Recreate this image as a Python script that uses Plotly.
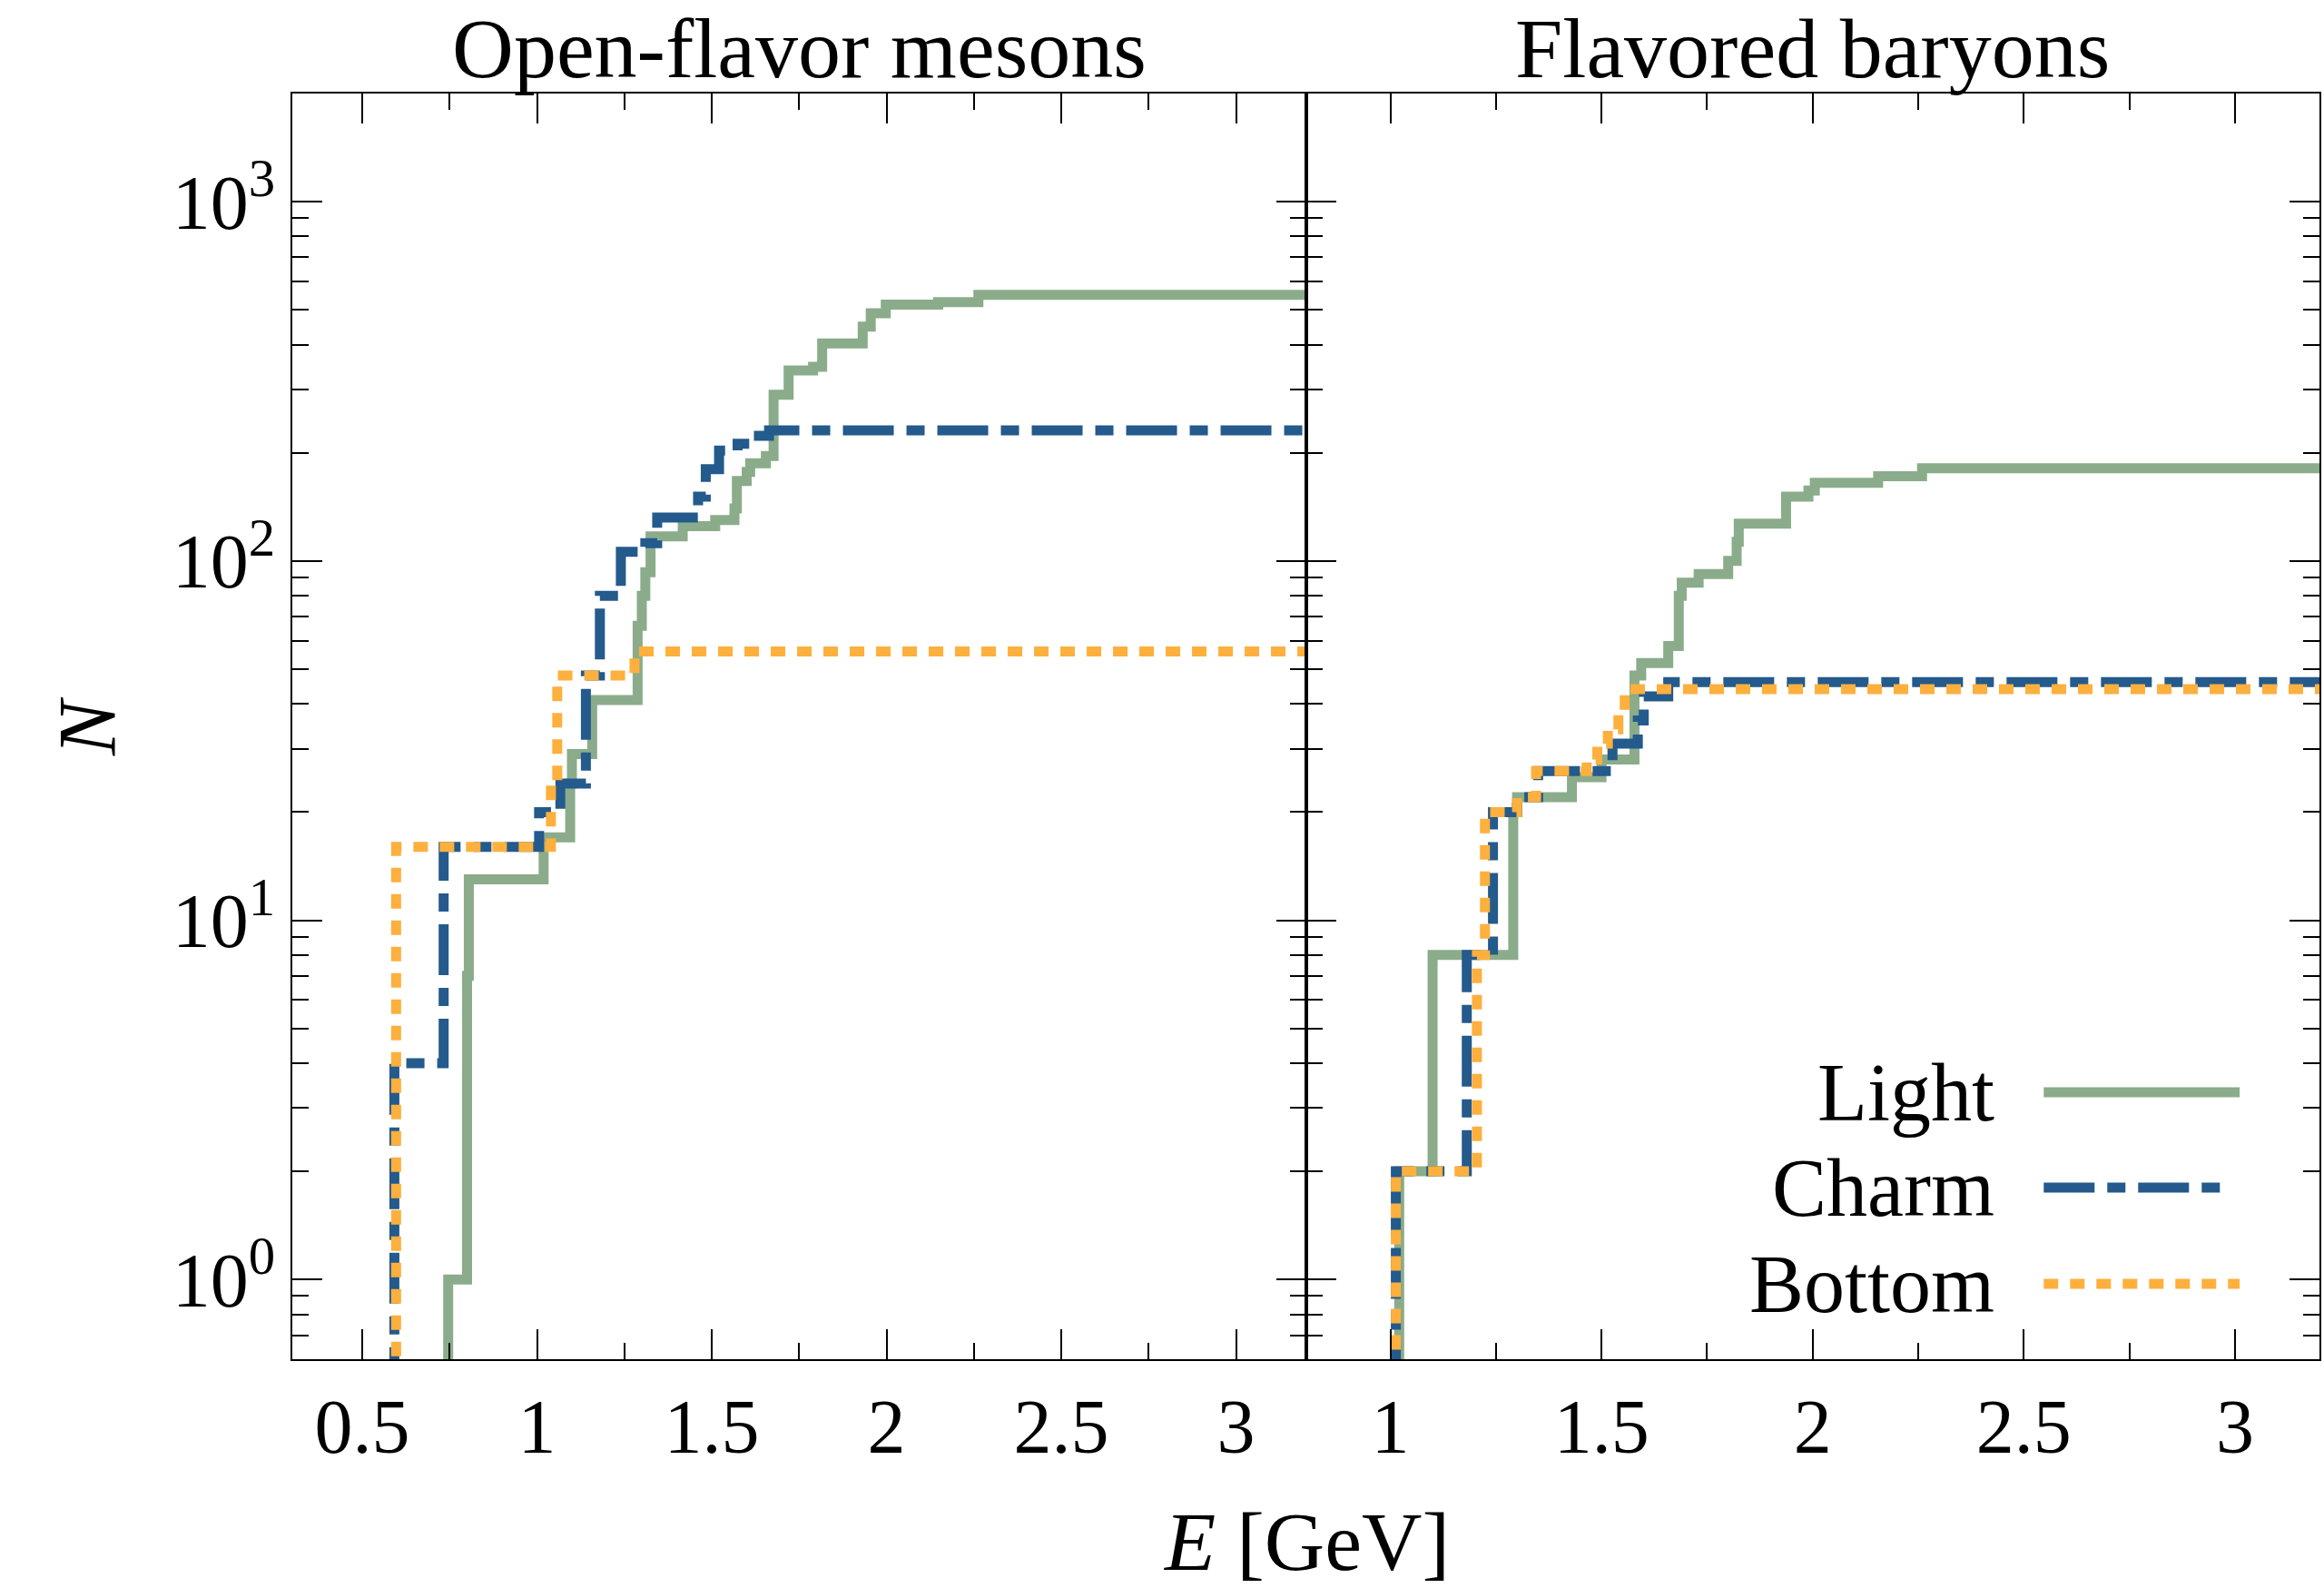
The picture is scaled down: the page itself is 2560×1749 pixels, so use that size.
import math
import plotly.graph_objects as go

# ---------------- data ----------------
panel_titles = ["Open-flavor mesons", "Flavored baryons"]
series_names = ["Light", "Charm", "Bottom"]

meson_light_E = [0.746, 0.800, 0.805, 1.019, 1.095, 1.100, 1.158, 1.288, 1.300, 1.310,
                 1.325, 1.417, 1.510, 1.565, 1.572, 1.600, 1.610, 1.655, 1.677, 1.720,
                 1.790, 1.816, 1.932, 1.955, 1.998, 2.148, 2.263]
meson_light_N = [1, 7, 13, 17, 24, 29, 41, 66, 80, 93,
                 117, 125, 130, 140, 167, 177, 187, 196, 290, 339,
                 347, 403, 449, 489, 517, 525, 550]

meson_charm_E = [0.592, 0.733, 1.006, 1.067, 1.140, 1.180, 1.240, 1.310, 1.344, 1.461,
                 1.483, 1.521, 1.574, 1.635, 1.664]
meson_charm_N = [4, 16, 20, 24, 48, 80, 106, 112, 132, 151,
                 180, 203, 212, 223, 231]

meson_bottom_E = [0.597, 1.040, 1.058, 1.279]
meson_bottom_N = [16, 24, 48, 56]

baryon_light_E = [1.021, 1.100, 1.291, 1.300, 1.430, 1.500, 1.578, 1.594, 1.658, 1.683,
                  1.690, 1.730, 1.800, 1.820, 1.825, 1.937, 1.990, 2.005, 2.155, 2.259]
baryon_light_N = [2, 8, 20, 22, 25, 28, 48, 52, 58, 80,
                  87, 92, 100, 113, 127, 151, 157, 165, 172, 181]

baryon_charm_E = [1.013, 1.181, 1.243, 1.300, 1.350, 1.526, 1.586, 1.600, 1.658]
baryon_charm_N = [2, 8, 20, 22, 26, 31, 36, 42, 46]

baryon_bottom_E = [1.013, 1.205, 1.224, 1.300, 1.345, 1.465, 1.490, 1.515, 1.540, 1.555]
baryon_bottom_N = [2, 8, 20, 22, 26, 28, 31, 34, 38, 44]

y_tick_vals = [1, 10, 100, 1000]
y_tick_text = ["10<sup>0</sup>", "10<sup>1</sup>", "10<sup>2</sup>", "10<sup>3</sup>"]
x_ticks_mesons = [0.5, 1, 1.5, 2, 2.5, 3]
x_ticks_baryons = [1, 1.5, 2, 2.5, 3]

# ---------------- style ----------------
FONT = "Liberation Serif"
COLORS = {"Light": "#8BAC8A", "Charm": "#245A8C", "Bottom": "#FDB03D"}
DASHES = {"Light": "solid", "Charm": "56px,14px,20px,14px", "Bottom": "16px,13px"}
LW = 11
X_RANGES = [(0.3, 3.2), (0.8, 3.2)]
Y_LOW, Y_HIGH = 0.6, 2000

fig = go.Figure()

panels = [
    [(meson_light_E, meson_light_N), (meson_charm_E, meson_charm_N), (meson_bottom_E, meson_bottom_N)],
    [(baryon_light_E, baryon_light_N), (baryon_charm_E, baryon_charm_N), (baryon_bottom_E, baryon_bottom_N)],
]

for p, series in enumerate(panels):
    xa = "x" if p == 0 else "x2"
    ya = "y" if p == 0 else "y2"
    xmin, xmax = X_RANGES[p]
    for name, (E, N) in zip(series_names, series):
        xs = [xmin - 0.1] + list(E) + [xmax + 0.1]
        ys = [0.1] + list(N) + [N[-1]]
        fig.add_trace(go.Scatter(
            x=xs, y=ys, xaxis=xa, yaxis=ya, mode="lines", name=name, showlegend=False,
            line=dict(shape="hv", color=COLORS[name], width=LW, dash=DASHES[name]),
            hoverinfo="skip"))

minor_y = [m * 10 ** k for k in range(-1, 4) for m in range(2, 10)]

axis_common = dict(
    showline=True, linecolor="black", linewidth=2, mirror="allticks",
    ticks="inside", ticklen=33, tickwidth=2, tickcolor="black",
    showgrid=False, zeroline=False,
    tickfont=dict(family=FONT, size=84, color="black"),
)

xaxis_common = dict(axis_common)
xaxis_common.update(minor=dict(ticks="inside", ticklen=18, tickwidth=2, tickcolor="black",
                               dtick=0.25, tick0=0, showgrid=False))

yaxis_common = dict(axis_common)
yaxis_common.update(type="log", range=[math.log10(Y_LOW), math.log10(Y_HIGH)],
                    tickmode="array", tickvals=y_tick_vals, ticktext=y_tick_text,
                    minor=dict(ticks="inside", ticklen=18, tickwidth=2, tickcolor="black",
                               tickmode="array", tickvals=minor_y, showgrid=False))

fig.update_layout(
    width=2560, height=1749,
    margin=dict(l=322, r=3, t=103, b=252),
    paper_bgcolor="white", plot_bgcolor="white",
    font=dict(family=FONT, color="black"),
    xaxis=dict(xaxis_common, domain=[0, 0.5], range=list(X_RANGES[0]), anchor="y",
               tickmode="array", tickvals=x_ticks_mesons,
               ticktext=[f"{v:g}" for v in x_ticks_mesons]),
    xaxis2=dict(xaxis_common, domain=[0.5, 1], range=list(X_RANGES[1]), anchor="y2",
                tickmode="array", tickvals=x_ticks_baryons,
                ticktext=[f"{v:g}" for v in x_ticks_baryons]),
    yaxis=dict(yaxis_common, domain=[0, 1], anchor="x"),
    yaxis2=dict(yaxis_common, domain=[0, 1], anchor="x2", matches="y", showticklabels=False),
)

# panel titles
for i, t in enumerate(panel_titles):
    fig.add_annotation(text=t, xref="x domain" if i == 0 else "x2 domain", yref="paper",
                       x=0.5, y=1, xanchor="center", yanchor="bottom", yshift=-4,
                       showarrow=False, font=dict(family=FONT, size=94, color="black"))

# axis titles
fig.add_annotation(text="<i>E</i> [GeV]", xref="paper", yref="paper", x=0.5, y=0,
                   xanchor="center", yanchor="middle", yshift=-201, showarrow=False,
                   font=dict(family=FONT, size=92, color="black"))
fig.add_annotation(text="<i>N</i>", xref="paper", yref="paper", x=0, y=0.5,
                   xanchor="center", yanchor="middle", xshift=-226, textangle=-90,
                   showarrow=False, font=dict(family=FONT, size=90, color="black"))

# legend (text on the left, line sample on the right)
W, H = 2235.0, 1394.0
leg_rows_Y = [1203, 1308, 1414]
leg_text_right = 2201
leg_line_x0, leg_line_x1 = 2253, 2469
for name, Y in zip(series_names, leg_rows_Y):
    yp = (1497 - Y) / H
    fig.add_annotation(text=name, xref="paper", yref="paper",
                       x=(leg_text_right - 322) / W, y=yp, xanchor="right", yanchor="middle",
                       showarrow=False, font=dict(family=FONT, size=90, color="black"))
    x1 = leg_line_x1 if name != "Charm" else 2450
    fig.add_shape(type="line", xref="paper", yref="paper",
                  x0=(leg_line_x0 - 322) / W, x1=(x1 - 322) / W, y0=yp, y1=yp,
                  line=dict(color=COLORS[name], width=LW, dash=DASHES[name]))

fig.write_html("out.html")
